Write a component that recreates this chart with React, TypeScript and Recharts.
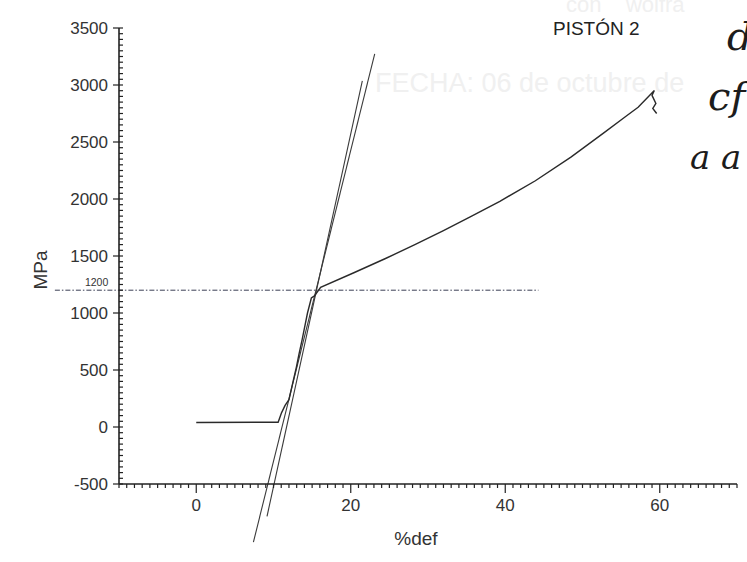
import { LineChart, Line, XAxis, YAxis, ReferenceLine } from 'recharts'

// curva esfuerzo-deformacion
const DEF = [0, 10.6, 11.05, 11.5, 12.0, 12.5, 12.97, 13.3, 13.7, 14.4, 14.9, 15.3, 16.1, 20.4, 24.5, 28.3, 32.0, 35.4, 39.3, 43.9, 48.5, 52.8, 55.5, 57.2, 59.3, 59.0, 59.5, 59.1, 59.6]
const MPA = [40, 42, 126, 190, 240, 390, 528, 640, 764, 1000, 1132, 1150, 1226, 1353, 1478, 1599, 1722, 1840, 1980, 2160, 2367, 2582, 2719, 2805, 2952, 2909, 2838, 2795, 2750]

// rectas auxiliares
const TANGENT_A = [{ x: 7.4, y: -1010 }, { x: 23.1, y: 3272 }]
const TANGENT_B = [{ x: 9.16, y: -784 }, { x: 21.5, y: 3037 }]
const LIMIT = [{ x: -18.3, y: 1200 }, { x: 44.3, y: 1200 }]
const LIMIT_LABEL = '1200'

const X_MAJOR = [0, 20, 40, 60]
const Y_MAJOR = [-500, 0, 500, 1000, 1500, 2000, 2500, 3000, 3500]
const X_MINOR = Array.from({ length: 81 }, (_, i) => -10 + i)
const Y_MINOR = Array.from({ length: 81 }, (_, i) => -500 + i * 50)

const data = DEF.map((d, i) => ({ def: d, mpa: MPA[i] }))

const FONT = '"Liberation Sans", Arial, sans-serif'
const INK = '#222'

function XTick({ x, y, payload }: any) {
  const major = X_MAJOR.includes(payload.value)
  return (
    <g>
      <line x1={x} x2={x} y1={y} y2={y + (major ? 9 : 4)} stroke={INK} strokeWidth={1.2} />
      {major && (
        <text x={x} y={y + 27} textAnchor="middle" fontSize={17} fontFamily={FONT} fill="#333">
          {payload.value}
        </text>
      )}
    </g>
  )
}

function YTick({ x, y, payload }: any) {
  const major = Y_MAJOR.includes(payload.value)
  return (
    <g>
      <line x1={x - (major ? 6 : 0)} x2={x + 4} y1={y} y2={y} stroke={INK} strokeWidth={1.2} />
      {major && (
        <text x={x - 11} y={y + 6} textAnchor="end" fontSize={17} fontFamily={FONT} fill="#333">
          {payload.value}
        </text>
      )}
    </g>
  )
}

const hand = {
  position: 'absolute' as const,
  fontFamily: '"DejaVu Serif", serif',
  fontStyle: 'italic',
  color: '#1c1c1c',
  lineHeight: 1,
  whiteSpace: 'nowrap' as const,
}

const ghost = {
  position: 'absolute' as const,
  fontFamily: FONT,
  color: '#f0f0f0',
  lineHeight: 1,
  whiteSpace: 'nowrap' as const,
}

export default function App() {
  return (
    <div style={{ position: 'absolute', left: 0, top: 0, width: 747, height: 562, background: '#fff', overflow: 'hidden' }}>
      <div style={{ ...ghost, left: 566, top: -6, fontSize: 22 }}>con &nbsp; &nbsp;wolfra</div>
      <div style={{ ...ghost, left: 375, top: 70, fontSize: 27 }}>FECHA: 06 de octubre de</div>

      <LineChart width={747} height={562} data={data} margin={{ top: 28, right: 10, left: 0, bottom: 0 }}>
        <XAxis
          dataKey="def"
          type="number"
          domain={[-10, 70]}
          ticks={X_MINOR}
          interval={0}
          tick={XTick}
          tickSize={0}
          tickMargin={0}
          tickLine={false}
          height={78}
          axisLine={{ stroke: INK, strokeWidth: 1.6 }}
          label={({ viewBox }: any) => (
            <text x={viewBox.x + viewBox.width / 2 - 12} y={viewBox.y + 61} textAnchor="middle" fontSize={19} fontFamily={FONT} fill="#333">
              %def
            </text>
          )}
        />
        <YAxis
          type="number"
          domain={[-500, 3500]}
          ticks={Y_MINOR}
          interval={0}
          tick={YTick}
          tickSize={0}
          tickMargin={0}
          tickLine={false}
          width={119}
          axisLine={{ stroke: INK, strokeWidth: 1.6 }}
          label={({ viewBox }: any) => {
            const cx = viewBox.x + 40
            const cy = viewBox.y + viewBox.height / 2 + 14
            return (
              <text x={cx} y={cy} transform={`rotate(-90, ${cx}, ${cy})`} textAnchor="middle" dominantBaseline="central" fontSize={19} fontFamily={FONT} fill="#333">
                MPa
              </text>
            )
          }}
        />
        <ReferenceLine
          segment={LIMIT}
          ifOverflow="visible"
          stroke="#3a3f55"
          strokeWidth={1}
          strokeDasharray="5 2 1.5 2"
          label={({ viewBox }: any) => (
            <text x={viewBox.x + 30} y={viewBox.y - 4} fontSize={10.5} fontFamily={FONT} fill="#333">
              {LIMIT_LABEL}
            </text>
          )}
        />
        <ReferenceLine segment={TANGENT_A} ifOverflow="visible" stroke="#3a3a3a" strokeWidth={1.1} />
        <ReferenceLine segment={TANGENT_B} ifOverflow="visible" stroke="#3a3a3a" strokeWidth={1.1} />
        <Line dataKey="mpa" type="linear" stroke="#2a2a2a" strokeWidth={1.4} dot={false} isAnimationActive={false} />
      </LineChart>

      <div style={{ position: 'absolute', left: 553, top: 19, fontSize: 19, lineHeight: 1, fontFamily: FONT, color: '#222', whiteSpace: 'nowrap' }}>PISTÓN 2</div>
      <div style={{ ...hand, left: 727, top: 16, fontSize: 40 }}>d</div>
      <div style={{ ...hand, left: 708, top: 76, fontSize: 40 }}>cf</div>
      <div style={{ ...hand, left: 690, top: 140, fontSize: 34 }}>a a</div>
    </div>
  )
}
